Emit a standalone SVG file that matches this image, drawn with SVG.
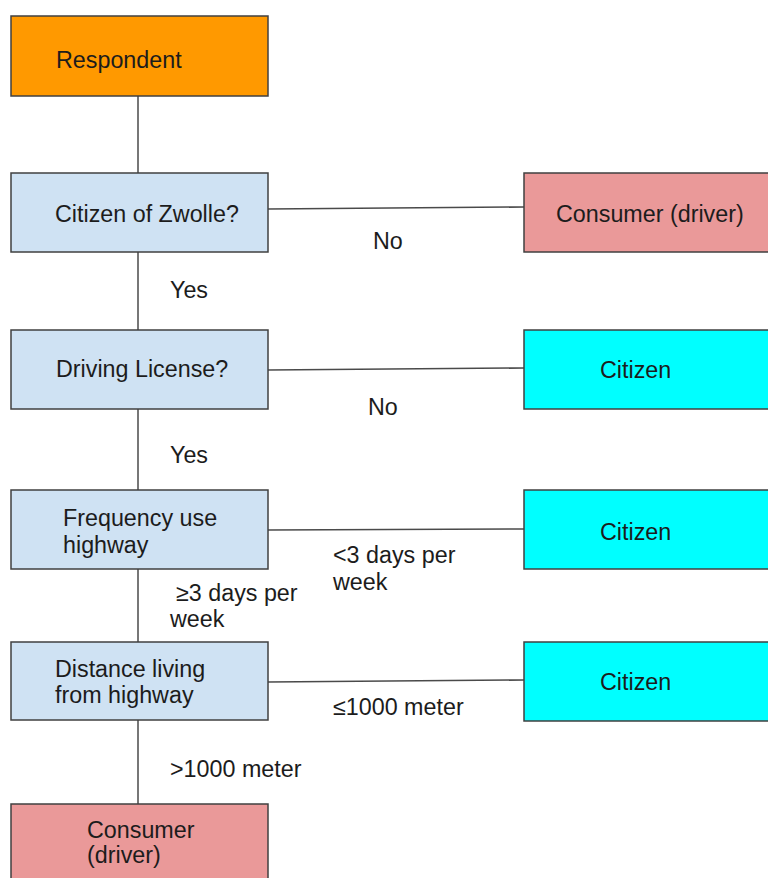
<svg xmlns="http://www.w3.org/2000/svg" width="768" height="878" viewBox="0 0 768 878">
<style>
.box{stroke:#404040;stroke-width:1.5}
.q{fill:#cfe2f3}
.o{fill:#ff9900}
.p{fill:#ea9999}
.c{fill:#00ffff}
.ln{stroke:#4a4a4a;stroke-width:1.5;fill:none}
text{font-family:"Liberation Sans",Arial,sans-serif;font-size:23.3px;fill:#1c1c1c}
</style>
<rect width="768" height="878" fill="#ffffff"/>
<g id="connectors">
<line class="ln" x1="138" y1="96" x2="138" y2="173"/>
<line class="ln" x1="138" y1="252" x2="138" y2="330"/>
<line class="ln" x1="138" y1="409" x2="138" y2="490"/>
<line class="ln" x1="138" y1="569" x2="138" y2="642"/>
<line class="ln" x1="138" y1="720" x2="138" y2="804"/>
<line class="ln" x1="268" y1="209" x2="524" y2="207"/>
<line class="ln" x1="268" y1="370" x2="524" y2="368"/>
<line class="ln" x1="268" y1="530" x2="524" y2="529"/>
<line class="ln" x1="268" y1="682" x2="524" y2="680"/>
<text x="373" y="249">No</text>
<text x="368" y="415">No</text>
<text x="170" y="298">Yes</text>
<text x="170" y="463">Yes</text>
<text x="333" y="563">&lt;3 days per</text>
<text x="333" y="590">week</text>
<text x="176" y="601">≥3 days per</text>
<text x="170" y="627">week</text>
<text x="333" y="715">≤1000 meter</text>
<text x="170" y="777">&gt;1000 meter</text>
</g>
<g id="respondent">
<rect class="box o" x="11" y="16" width="257" height="80"/>
<text x="56" y="68">Respondent</text>
</g>
<g id="citizen-zwolle">
<rect class="box q" x="11" y="173" width="257" height="79"/>
<text x="55" y="222">Citizen of Zwolle?</text>
</g>
<g id="consumer-top">
<rect class="box p" x="524" y="173" width="250" height="79"/>
<text x="556" y="222">Consumer (driver)</text>
</g>
<g id="driving-license">
<rect class="box q" x="11" y="330" width="257" height="79"/>
<text x="56" y="377">Driving License?</text>
</g>
<g id="citizen-1">
<rect class="box c" x="524" y="330" width="250" height="79"/>
<text x="600" y="378">Citizen</text>
</g>
<g id="frequency">
<rect class="box q" x="11" y="490" width="257" height="79"/>
<text x="63" y="526">Frequency use</text>
<text x="63" y="553">highway</text>
</g>
<g id="citizen-2">
<rect class="box c" x="524" y="490" width="250" height="79"/>
<text x="600" y="540">Citizen</text>
</g>
<g id="distance">
<rect class="box q" x="11" y="642" width="257" height="78"/>
<text x="55" y="677">Distance living</text>
<text x="55" y="703">from highway</text>
</g>
<g id="citizen-3">
<rect class="box c" x="524" y="642" width="250" height="79"/>
<text x="600" y="690">Citizen</text>
</g>
<g id="consumer-bottom">
<rect class="box p" x="11" y="804" width="257" height="80"/>
<text x="87" y="838">Consumer</text>
<text x="87" y="863">(driver)</text>
</g>
</svg>
